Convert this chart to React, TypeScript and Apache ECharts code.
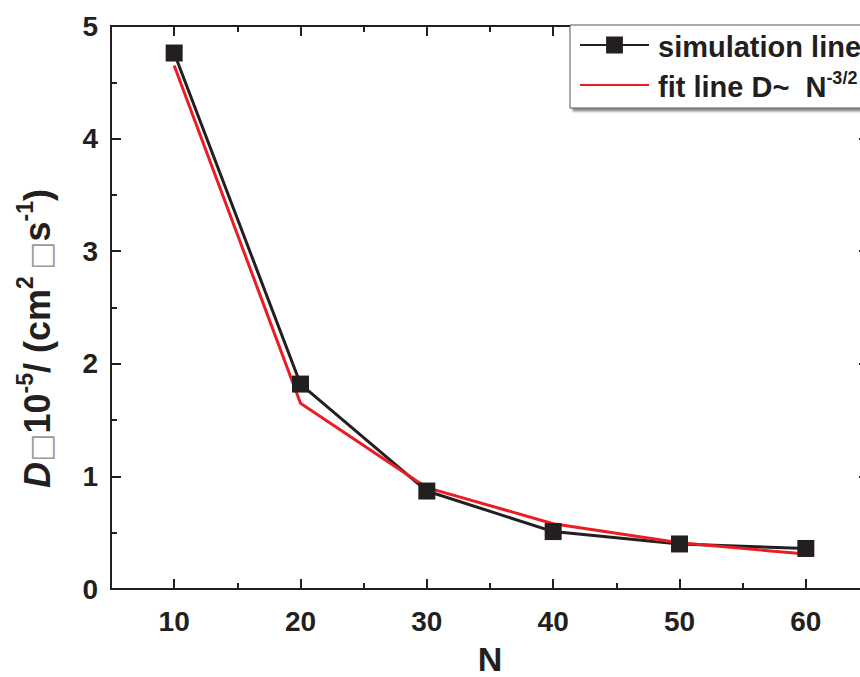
import React, { useEffect, useRef } from "react";
import * as echarts from "echarts";

const nValues = [10, 20, 30, 40, 50, 60];
const simulationValues = [4.76, 1.82, 0.87, 0.51, 0.4, 0.36];
const fitValues = [4.65, 1.65, 0.9, 0.58, 0.41, 0.31];
const majorXTicks = [10, 20, 30, 40, 50, 60];
const minorXTicks = [15, 25, 35, 45, 55];

const FONT = "'Liberation Sans', Arial, Helvetica, sans-serif";
const INK = "#231f20";
const RED = "#ed1c24";

export default function App() {
  const ref = useRef<HTMLDivElement>(null);
  useEffect(() => {
    document.body.style.margin = "0";
    document.body.style.overflow = "hidden";
    if (!ref.current) return;
    const chart = echarts.init(ref.current, null, { renderer: "svg" });
    const axisLine = { show: true, lineStyle: { color: INK, width: 2 } };
    const xBase = (pos: "bottom" | "top") => ({
      type: "value" as const,
      min: 5,
      max: 65,
      position: pos,
      axisLine,
      splitLine: { show: false },
    });
    chart.setOption({
      animation: false,
      backgroundColor: "#ffffff",
      grid: { left: 111, top: 26, right: -9, bottom: 88, containLabel: false, outerBoundsMode: "none" },
      legend: {
        left: 570,
        top: 25,
        orient: "vertical",
        itemWidth: 69,
        itemHeight: 21,
        itemGap: 8,
        padding: [7, 20, 7, 9],
        borderColor: "#555",
        borderWidth: 1,
        backgroundColor: "#ffffff",
        shadowColor: "rgba(0,0,0,0.45)",
        shadowOffsetX: 3,
        shadowOffsetY: 3,
        shadowBlur: 2,
        textStyle: {
          fontFamily: FONT,
          fontWeight: "bold",
          fontSize: 29,
          color: INK,
          padding: [0, 0, 0, 4],
          rich: {
            t: { fontFamily: FONT, fontWeight: "bold", fontSize: 29, color: INK, lineHeight: 32, verticalAlign: "bottom" },
            s: { fontFamily: FONT, fontWeight: "bold", fontSize: 18, color: INK, lineHeight: 32, verticalAlign: "top" },
          },
        },
        data: [
          { name: "simulation line" },
          { name: "fit line D~  N-3/2", itemStyle: { opacity: 0 } },
        ],
        formatter: (name: string) =>
          name.startsWith("fit") ? "{t|fit line D~  N}{s|-3/2}" : "{t|" + name + "}",
      },
      xAxis: [
        {
          ...xBase("bottom"),
          name: "N",
          nameLocation: "middle",
          nameGap: 57,
          nameTextStyle: { fontFamily: FONT, fontWeight: "bold", fontSize: 34, lineHeight: 26, color: INK },
          axisTick: { show: true, inside: true, length: 10, lineStyle: { color: INK, width: 2 }, customValues: majorXTicks },
          axisLabel: {
            show: true,
            margin: 18,
            fontFamily: FONT,
            fontWeight: "bold",
            fontSize: 28,
            color: INK,
            customValues: majorXTicks,
          },
        },
        {
          ...xBase("bottom"),
          axisTick: { show: true, inside: true, length: 6, lineStyle: { color: INK, width: 2 }, customValues: minorXTicks },
          axisLabel: { show: false },
        },
        {
          ...xBase("top"),
          axisTick: { show: true, inside: true, length: 10, lineStyle: { color: INK, width: 2 }, customValues: majorXTicks },
          axisLabel: { show: false },
        },
        {
          ...xBase("top"),
          axisTick: { show: true, inside: true, length: 6, lineStyle: { color: INK, width: 2 }, customValues: minorXTicks },
          axisLabel: { show: false },
        },
      ],
      yAxis: [
        {
          type: "value",
          min: 0,
          max: 5,
          interval: 1,
          position: "left",
          axisLine,
          splitLine: { show: false },
          axisTick: { show: true, inside: true, length: 10, lineStyle: { color: INK, width: 2 } },
          minorTick: { show: true, splitNumber: 2, length: 6, lineStyle: { color: INK, width: 2 } },
          axisLabel: { margin: 13, fontFamily: FONT, fontWeight: "bold", fontSize: 28, color: INK },
          name: "{it|D}{box|□}{b|10}{sup|-5}{b|/ (cm}{sup|2 }{box|□}{b|s}{sup|-1}{b|)}",
          nameLocation: "middle",
          nameRotate: 90,
          nameGap: 56,
          nameTextStyle: {
            padding: [0, 62, 0, 0],
            rich: {
              it: { fontFamily: FONT, fontWeight: "bold", fontStyle: "italic", fontSize: 36, color: INK, lineHeight: 42, verticalAlign: "bottom" },
              b: { fontFamily: FONT, fontWeight: "bold", fontSize: 36, color: INK, lineHeight: 42, verticalAlign: "bottom" },
              box: { fontFamily: "'DejaVu Sans', sans-serif", fontWeight: "normal", fontSize: 30, color: "#9a9a9a", lineHeight: 42, verticalAlign: "bottom" },
              sup: { fontFamily: FONT, fontWeight: "bold", fontSize: 23, color: INK, lineHeight: 42, verticalAlign: "top" },
            },
          },
        },
        {
          type: "value",
          min: 0,
          max: 5,
          interval: 1,
          position: "right",
          axisLine,
          splitLine: { show: false },
          axisTick: { show: true, inside: true, length: 10, lineStyle: { color: INK, width: 2 } },
          axisLabel: { show: false },
        },
      ],
      series: [
        {
          name: "simulation line",
          type: "line",
          xAxisIndex: 0,
          yAxisIndex: 0,
          data: nValues.map((n, i) => [n, simulationValues[i]]),
          symbol: "rect",
          symbolSize: 17,
          itemStyle: { color: INK },
          lineStyle: { color: INK, width: 3 },
        },
        {
          name: "fit line D~  N-3/2",
          type: "line",
          xAxisIndex: 0,
          yAxisIndex: 0,
          data: nValues.map((n, i) => [n, fitValues[i]]),
          symbol: "none",
          itemStyle: { color: RED },
          lineStyle: { color: RED, width: 3 },
        },
      ],
    });
    return () => chart.dispose();
  }, []);
  return <div ref={ref} style={{ width: 860, height: 677, overflow: "hidden" }} />;
}
